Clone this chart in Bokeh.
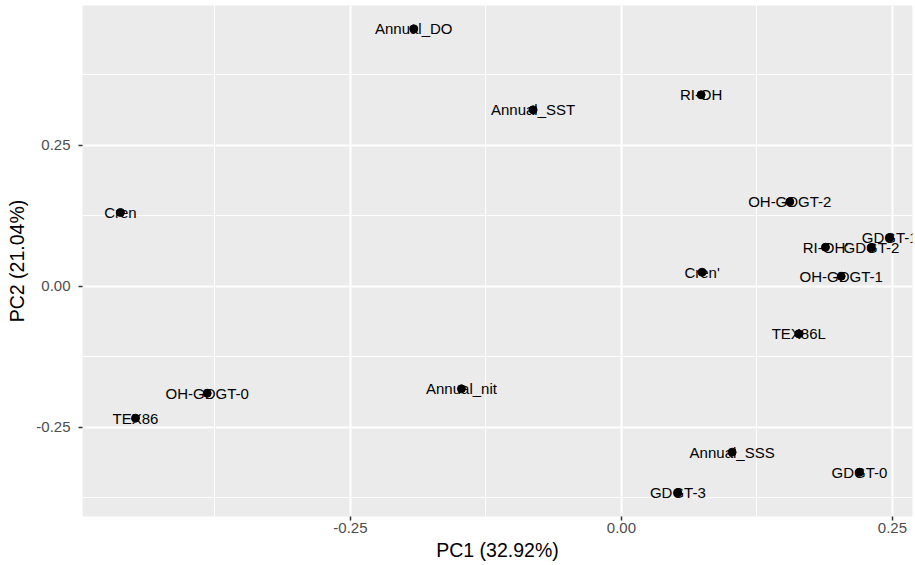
from bokeh.plotting import figure
from bokeh.models import ColumnDataSource, FixedTicker, Range1d
from bokeh.core.properties import value
from bokeh.embed import file_html
from bokeh.resources import INLINE

names = ["Annual_DO", "Annual_SST", "RI-OH", "Cren", "OH-GDGT-2", "GDGT-1",
         "RI-OH'", "GDGT-2", "Cren'", "OH-GDGT-1", "TEX86L", "OH-GDGT-0",
         "Annual_nit", "TEX86", "Annual_SSS", "GDGT-0", "GDGT-3"]
pc1 = [-0.1916, -0.0815, 0.0735, -0.4622, 0.1553, 0.2475,
       0.1882, 0.2306, 0.0744, 0.2027, 0.1636, -0.3822,
       -0.1476, -0.4483, 0.1021, 0.2196, 0.0520]
pc2 = [0.4566, 0.3129, 0.3395, 0.1309, 0.1498, 0.0860,
       0.0693, 0.0683, 0.0250, 0.0179, -0.0843, -0.1895,
       -0.1817, -0.2338, -0.2941, -0.3296, -0.3662]

x_ticks = [-0.25, 0.0, 0.25]
x_tick_labels = ["-0.25", "0.00", "0.25"]
x_minor = [-0.375, -0.125, 0.125]
y_ticks = [-0.25, 0.0, 0.25]
y_tick_labels = ["-0.25", "0.00", "0.25"]
y_minor = [-0.375, -0.125, 0.125, 0.375]

x_title = "PC1 (32.92%)"
y_title = "PC2 (21.04%)"

FONT = "Liberation Sans"

src = ColumnDataSource(dict(x=pc1, y=pc2, name=names))

p = figure(width=915, height=565, output_backend="svg", toolbar_location=None,
           x_range=Range1d(-0.4972, 0.2685), y_range=Range1d(-0.4081, 0.4979),
           min_border_left=82, min_border_right=3, min_border_top=5,
           min_border_bottom=49)
p.background_fill_color = "#EBEBEB"
p.border_fill_color = "white"
p.outline_line_color = None

p.text(x="x", y="y", text="name", source=src, text_align="center",
       text_baseline="middle", text_font=value(FONT), text_font_size="15px",
       text_color="black")
p.scatter(x="x", y="y", source=src, size=8, fill_color="black", line_color="black")

p.xaxis.ticker = FixedTicker(ticks=x_ticks, minor_ticks=x_minor)
p.yaxis.ticker = FixedTicker(ticks=y_ticks, minor_ticks=y_minor)
p.xaxis.major_label_overrides = {t: l for t, l in zip(x_ticks, x_tick_labels)}
p.yaxis.major_label_overrides = {t: l for t, l in zip(y_ticks, y_tick_labels)}

for ax in (p.xaxis, p.yaxis):
    ax.axis_line_color = None
    ax.major_tick_line_color = "#333333"
    ax.major_tick_line_width = 1.5
    ax.major_tick_out = 4
    ax.major_tick_in = 0
    ax.minor_tick_line_color = None
    ax.major_label_text_font = FONT
    ax.major_label_text_font_size = "15px"
    ax.major_label_text_color = "#4D4D4D"
    ax.axis_label_text_font = FONT
    ax.axis_label_text_font_size = "19.5px"
    ax.axis_label_text_font_style = "normal"
    ax.axis_label_text_color = "black"

p.xaxis.axis_label = x_title
p.yaxis.axis_label = y_title
p.xaxis.major_label_standoff = 2
p.xaxis.axis_label_standoff = 3
p.yaxis.major_label_standoff = 8
p.yaxis.axis_label_standoff = 5

for g in (p.xgrid, p.ygrid):
    g.grid_line_color = "white"
    g.grid_line_width = 2
    g.minor_grid_line_color = "white"
    g.minor_grid_line_width = 1

open("out.html", "w").write(file_html(p, INLINE))
